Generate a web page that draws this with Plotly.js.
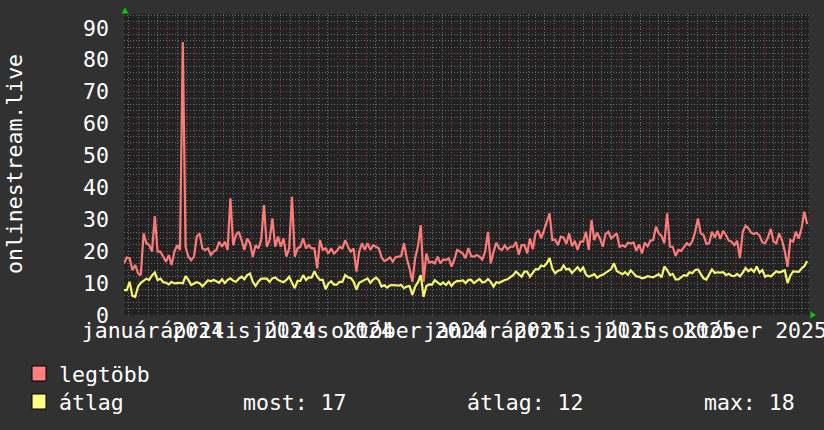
<!DOCTYPE html>
<html><head><meta charset="utf-8">
<script src="https://cdn.plot.ly/plotly-3.0.1.min.js"></script>
<style>html,body{margin:0;padding:0;background:#313131;}#chart{width:824px;height:430px;}</style>
</head><body><div id="chart"></div>
<script>
// ---- data ----
const startDate = '2023-12-16';
const stepDays = 3;
const seriesNames = ['legtöbb', 'átlag'];
const maxValues = [
16.2, 18.0, 17.8, 14.1, 15.7, 13.1, 12.5, 25.6, 22.5, 21.9,
19.9, 31.0, 19.9, 19.9, 18.3, 16.7, 18.8, 15.7, 19.9, 21.9,
20.4, 85.6, 21.4, 18.3, 17.2, 18.3, 24.6, 25.6, 20.9, 20.4,
20.9, 18.8, 19.9, 20.4, 23.0, 21.4, 23.0, 20.4, 36.6, 21.9,
25.1, 26.1, 23.5, 20.4, 24.0, 22.5, 18.3, 21.9, 20.9, 23.5,
34.5, 21.4, 23.5, 30.3, 21.4, 24.6, 21.4, 24.0, 18.3, 20.9,
37.1, 18.3, 20.9, 21.4, 24.0, 20.9, 21.9, 20.9, 20.9, 14.6,
23.5, 20.4, 20.9, 19.3, 20.9, 19.3, 20.1, 21.4, 20.9, 23.5,
21.4, 19.9, 20.9, 13.6, 19.9, 22.5, 20.4, 22.5,
20.4, 21.9, 21.4, 20.9, 18.1, 16.9, 17.4, 18.1, 16.7, 18.1,
18.3, 18.5, 22.5, 17.8, 14.6, 10.4, 17.8, 21.6, 28.2, 10.4,
19.3, 16.4, 16.7, 16.2, 18.3, 16.2, 17.4, 17.2, 17.8, 15.2,
17.4, 20.4, 19.9, 19.3, 17.8, 21.0, 18.5, 18.3, 18.8, 18.3,
17.4, 19.9, 26.1, 16.2, 19.9, 22.7, 20.9, 20.4, 21.8, 20.6,
21.4, 21.4, 22.9, 18.9, 21.9, 22.0, 19.3, 24.0, 20.6, 25.6,
26.6, 24.0, 26.5, 29.3, 31.9, 23.5, 23.7, 21.9, 24.6, 24.3,
22.3, 25.6, 21.6, 23.3, 20.4, 23.0, 23.0, 26.1, 20.4, 29.8,
23.5, 25.8, 24.0, 21.4, 25.4, 26.1,
24.0, 24.8, 25.6, 21.4, 21.9, 21.4, 22.7, 22.5, 22.7, 20.1,
22.1, 19.3, 22.7, 21.6, 23.3, 23.5, 27.7, 25.6, 24.8, 22.5,
31.9, 21.4, 21.4, 18.5, 20.4, 20.1, 21.4, 22.5, 21.9, 23.1,
26.1, 30.3, 25.6, 25.1, 22.3, 22.5, 26.1, 24.3, 26.4, 23.9,
26.4, 25.1, 23.3, 23.0, 21.9, 23.3, 17.8, 26.1, 28.0, 27.2,
25.8, 25.4, 25.8, 24.9, 22.8, 22.5, 24.3, 27.0, 23.0, 22.5,
25.6, 23.5, 20.1, 15.1, 23.5, 23.0, 26.1, 24.0, 27.2, 32.4,
28.5
];
const avgValues = [
7.8, 7.8, 10.4, 6.0, 5.7, 8.9, 10.1, 10.7, 11.4, 11.0,
12.4, 13.3, 11.0, 11.4, 10.3, 10.1, 9.6, 10.4, 9.9, 10.0,
10.1, 9.9, 12.2, 11.0, 9.4, 9.9, 10.3, 10.0, 9.0, 9.9,
10.9, 10.6, 11.0, 10.6, 10.1, 11.2, 10.0, 11.0, 11.5, 10.7,
10.4, 11.4, 12.0, 11.2, 12.5, 13.0, 10.4, 9.1, 10.5, 11.4,
11.4, 11.4, 10.4, 11.5, 11.8, 11.0, 10.6, 10.3, 11.0, 12.0,
10.1, 8.4, 10.7, 10.7, 12.5, 11.0, 11.8, 11.7, 13.7, 12.0,
11.0, 11.0, 8.1, 9.9, 10.6, 9.5, 9.5, 10.4, 10.4, 12.5,
11.8, 11.6, 10.5, 8.0, 10.1, 10.5, 11.0, 11.5,
10.1, 11.1, 11.7, 10.9, 8.9, 9.3, 8.6, 9.3, 9.4, 9.3,
9.2, 9.4, 8.4, 8.9, 9.1, 6.3, 8.9, 10.3, 12.5, 5.7,
9.1, 9.6, 9.5, 10.9, 10.3, 9.5, 10.2, 9.4, 10.4, 9.1,
10.2, 10.7, 10.6, 10.9, 10.0, 11.0, 11.0, 10.0, 10.7, 11.3,
10.2, 10.4, 11.3, 10.4, 8.9, 10.3, 10.1, 10.6, 11.0, 11.2,
11.9, 12.5, 13.6, 12.7, 12.0, 13.6, 13.6, 12.0, 13.1, 14.4,
14.3, 15.5, 15.2, 16.2, 17.9, 14.5, 13.1, 13.9, 14.1, 15.5,
14.3, 14.5, 13.2, 14.0, 15.0, 13.8, 14.9, 12.7, 12.0, 12.4,
12.8, 11.7, 12.3, 12.6, 13.3, 13.9,
14.4, 16.2, 13.8, 13.3, 12.8, 13.4, 12.6, 14.0, 12.9, 12.1,
12.0, 11.5, 11.7, 12.2, 12.0, 11.8, 12.3, 12.8, 11.8, 15.2,
14.1, 12.5, 12.9, 11.2, 11.2, 11.9, 12.5, 12.3, 13.4, 13.1,
14.1, 14.3, 12.9, 11.5, 11.1, 12.5, 14.3, 13.2, 13.4, 13.3,
13.4, 12.5, 12.9, 12.3, 12.2, 12.9, 12.1, 13.3, 14.7, 13.7,
14.4, 13.5, 15.2, 13.3, 14.1, 12.0, 12.4, 12.1, 12.9, 13.7,
13.3, 13.6, 14.0, 10.0, 12.3, 13.7, 13.7, 13.5, 14.6, 15.3,
16.9
];
const xTickDates = ['2024-01-16','2024-04-16','2024-07-16','2024-10-16','2025-01-16','2025-04-16','2025-07-16','2025-10-16'];
const xTickLabels = ['január 2024','április 2024','július 2024','október 2024','január 2025','április 2025','július 2025','október 2025'];
const yTickValues = [0,10,20,30,40,50,60,70,80,90];
const yAxisLabel = 'onlinestream.live';
const statLabels = ['most: 17', 'átlag: 12', 'max: 18'];

// ---- build ----
const x = [];
const t0 = Date.parse(startDate + 'T00:00:00Z');
for (let i = 0; i < maxValues.length; i++) {
  x.push(new Date(t0 + i * stepDays * 86400000).toISOString().slice(0, 10));
}
// secondary (gray) vertical grid: 11th and 21st of each month
const grayGrid = [];
for (let y = 2023; y <= 2025; y++) {
  for (let m = 1; m <= 12; m++) {
    const mm = String(m).padStart(2, '0');
    grayGrid.push(`${y}-${mm}-11`, `${y}-${mm}-21`);
  }
}

const FONT = 'DejaVu Sans Mono';
const RED = '#ff8080', YEL = '#ffff80';
const RED_GRID = '#8c3e3e', GRAY_GRID = '#6a6a6a';

const traces = [
  {x: x, y: maxValues, name: seriesNames[0], type: 'scatter', mode: 'lines',
   line: {color: '#fb7b7b', width: 2.2}, xaxis: 'x', yaxis: 'y'},
  {x: x, y: avgValues, name: seriesNames[1], type: 'scatter', mode: 'lines',
   line: {color: '#f4f46e', width: 2.2}, xaxis: 'x2', yaxis: 'y'}
];

const px = v => (v - 124) / 685;
const py = v => (315 - v) / 301;

const layout = {
  width: 824, height: 430, autosize: false,
  margin: {l: 124, r: 15, t: 14, b: 115, pad: 0},
  paper_bgcolor: '#313131', plot_bgcolor: '#222222',
  showlegend: false, hovermode: false,
  font: {family: FONT, color: '#ffffff', size: 21.5},
  xaxis: {
    type: 'date', range: ['2023-12-16', '2025-12-19'],
    tickmode: 'array', tickvals: xTickDates, ticktext: xTickLabels, tickangle: 0,
    ticklabeloverflow: 'allow',
    ticks: '', showgrid: false, zeroline: false, showline: false,
    tickfont: {family: FONT, size: 21.5, color: '#ffffff'}, ticklabelstandoff: 0,
    minor: {tickmode: 'linear', tick0: '2024-01-01', dtick: 'M1', showgrid: true,
            gridcolor: RED_GRID, griddash: '1px,2px', gridwidth: 1, ticks: ''},
    fixedrange: true
  },
  xaxis2: {
    type: 'date', overlaying: 'x', matches: 'x', anchor: 'y',
    tickmode: 'array', tickvals: grayGrid, showticklabels: false, ticks: '',
    showgrid: true, gridcolor: GRAY_GRID, griddash: '1px,2px', gridwidth: 1,
    zeroline: false, showline: false, fixedrange: true
  },
  yaxis: {
    range: [0, 94.4], tickmode: 'array', tickvals: yTickValues, ticks: '',
    showgrid: true, gridcolor: RED_GRID, griddash: '1px,2px', gridwidth: 1,
    zeroline: false, showline: false,
    tickfont: {family: FONT, size: 21.5, color: '#ffffff'}, ticklabelstandoff: 14,
    minor: {tickmode: 'linear', tick0: 0, dtick: 2, showgrid: true,
            gridcolor: GRAY_GRID, griddash: '1px,2px', gridwidth: 1, ticks: ''},
    fixedrange: true
  },
  annotations: [
    {text: yAxisLabel, xref: 'paper', yref: 'paper', x: px(14), y: py(164), textangle: -90,
     showarrow: false, xanchor: 'center', yanchor: 'middle', font: {family: FONT, size: 21.5, color: '#ffffff'}},
    {text: seriesNames[0], xref: 'paper', yref: 'paper', x: px(57), y: py(374), showarrow: false,
     xanchor: 'left', yanchor: 'middle', font: {family: FONT, size: 21.5, color: '#ffffff'}},
    {text: seriesNames[1], xref: 'paper', yref: 'paper', x: px(57), y: py(402), showarrow: false,
     xanchor: 'left', yanchor: 'middle', font: {family: FONT, size: 21.5, color: '#ffffff'}},
    {text: statLabels[0], xref: 'paper', yref: 'paper', x: px(241), y: py(402), showarrow: false,
     xanchor: 'left', yanchor: 'middle', font: {family: FONT, size: 21.5, color: '#ffffff'}},
    {text: statLabels[1], xref: 'paper', yref: 'paper', x: px(465), y: py(402), showarrow: false,
     xanchor: 'left', yanchor: 'middle', font: {family: FONT, size: 21.5, color: '#ffffff'}},
    {text: statLabels[2], xref: 'paper', yref: 'paper', x: px(702), y: py(402), showarrow: false,
     xanchor: 'left', yanchor: 'middle', font: {family: FONT, size: 21.5, color: '#ffffff'}}
  ],
  shapes: [
    {type: 'rect', xref: 'paper', yref: 'paper', x0: px(32), x1: px(46), y0: py(366), y1: py(381),
     fillcolor: RED, line: {color: '#000000', width: 1}},
    {type: 'rect', xref: 'paper', yref: 'paper', x0: px(32), x1: px(46), y0: py(394), y1: py(409),
     fillcolor: YEL, line: {color: '#000000', width: 1}},
    {type: 'path', xref: 'paper', yref: 'paper',
     path: `M ${px(121.5)} ${py(13.5)} L ${px(128.5)} ${py(13.5)} L ${px(125)} ${py(7.5)} Z`,
     fillcolor: '#00cc00', line: {width: 0}},
    {type: 'path', xref: 'paper', yref: 'paper',
     path: `M ${px(810.5)} ${py(311.5)} L ${px(810.5)} ${py(318.5)} L ${px(816)} ${py(315)} Z`,
     fillcolor: '#00cc00', line: {width: 0}}
  ]
};

Plotly.newPlot('chart', traces, layout, {staticPlot: true, displayModeBar: false});
</script>
</body></html>
